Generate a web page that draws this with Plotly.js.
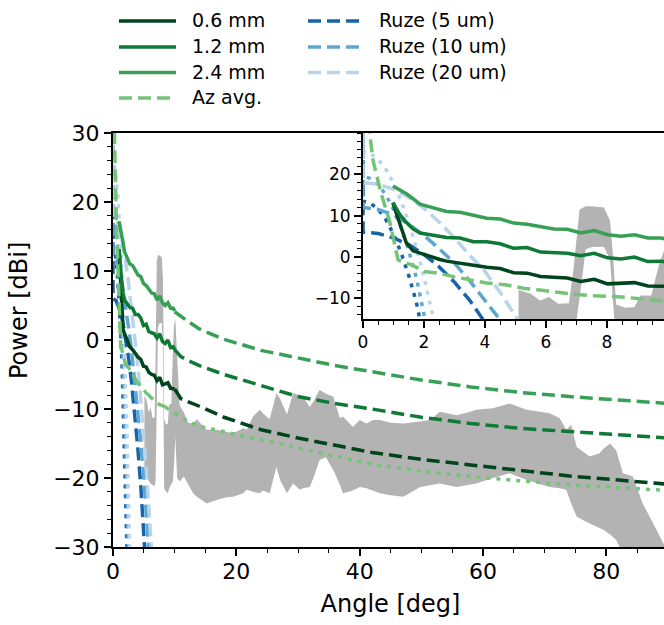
<!DOCTYPE html>
<html>
<head>
<meta charset="utf-8">
<script src="https://cdn.plot.ly/plotly-3.0.1.min.js"></script>
<style>
html,body{margin:0;padding:0;overflow:hidden;background:#fff;}
#chart{width:670px;height:625px;}
</style>
</head>
<body>
<div id="chart"></div>
<script>
// ---- measured beam profiles (0-10 deg) ----
const measAng = [0.98, 1.2, 1.42, 1.64, 1.87, 2.1, 2.3, 2.52, 2.74, 3.18, 3.62, 4.06, 4.5, 4.94, 5.38, 5.82, 6.26, 6.7, 7.14, 7.58, 8.02, 8.46, 8.9, 9.34, 9.78, 10.0];
const p06 = [13.1, 8.2, 3.4, 1.5, 0.9, 0.5, 0.0, -0.6, -1.0, -1.4, -2.0, -2.5, -2.8, -3.8, -3.9, -4.7, -5.0, -5.1, -5.9, -5.4, -6.5, -6.3, -6.2, -7.0, -7.0, -7.1];
const p12 = [13.2, 10.3, 8.4, 6.8, 5.8, 5.5, 5.3, 5.1, 4.7, 4.6, 3.7, 3.7, 3.2, 2.1, 2.3, 1.2, 1.1, 0.9, 0.3, 0.9, -0.2, -0.5, 0.0, -1.1, -1.0, -1.4];
const p24 = [17.2, 16.3, 15.3, 14.1, 12.8, 12.3, 11.9, 11.3, 11.0, 10.8, 10.0, 9.4, 9.2, 8.2, 7.9, 7.3, 6.8, 6.7, 5.8, 6.4, 5.4, 5.0, 5.4, 4.6, 4.6, 4.2];

// ---- azimuth average (0-10 deg) ----
const azAng = [0.15, 0.22, 0.33, 0.6, 0.87, 1.04, 1.15, 1.26, 1.59, 2.02, 2.46, 3.0, 3.5, 4.05, 4.66, 5.3, 5.8, 6.3, 6.9, 7.4, 8.0, 8.5, 9.1, 9.6, 10.0];
const azVal = [33, 29.8, 23.3, 15.2, 8.7, 3.0, -0.7, -1.0, -1.9, -3.5, -3.9, -4.8, -5.6, -6.3, -6.7, -7.6, -8.0, -8.5, -9.0, -9.3, -9.5, -9.7, -10.1, -10.5, -10.6];

// ---- extrapolated tails (10-90 deg) ----
const tailAng = [10, 11, 12, 14, 18, 24, 30, 36, 42, 50, 58, 66, 74, 82, 90];
const t06 = [-7.1, -8.5, -8.9, -9.6, -11.2, -13.0, -14.2, -15.3, -16.3, -17.3, -18.1, -19.0, -19.7, -20.3, -20.9];
const t12 = [-1.4, -2.4, -2.9, -3.7, -5.0, -6.6, -8.2, -9.2, -10.0, -11.2, -12.1, -12.8, -13.3, -13.8, -14.2];
const t24 = [4.1, 3.4, 2.8, 1.6, 0.1, -1.5, -2.6, -3.7, -4.6, -5.8, -6.8, -7.6, -8.2, -8.7, -9.2];
const tAz = [-10.6, -11.2, -11.7, -12.5, -13.3, -14.5, -15.6, -16.8, -18.0, -19.0, -19.8, -20.4, -21.0, -21.4, -21.8];

// ---- Ruze patterns ----
const ruzeAng = [0, 0, 0.5, 1, 1.5, 2, 2.5, 3, 3.5, 4, 4.5, 5, 5.5, 6, 6.5];
const ruze5 = [50, 6.0, 5.7, 4.6, 3.0, 0.6, -2.4, -6.1, -10.5, -15.4, -21.1, -27.5, -34.5, -42, -50];
const ruze10 = [50, 12.0, 11.5, 10.2, 7.9, 5.2, 2.0, -1.5, -5.8, -10.3, -14.8, -20.0, -26.0, -32.5, -40];
const ruze20 = [50, 18.0, 17.6, 16.4, 14.4, 11.8, 8.4, 4.6, 0.4, -3.5, -8.6, -14.1, -20.0, -27.0, -34.0];
const ruzeNarrowAng = [0, 0, 0.25, 0.5, 0.75, 1, 1.25, 1.5, 1.75, 2, 2.25, 2.5, 2.75];
const ruze5n = [50, 13.5, 13.0, 11.5, 9.0, 5.5, 1.0, -4.5, -11.0, -18.5, -27.0, -36.5, -47];
const ruze10n = [50, 19.5, 19.0, 17.5, 15.0, 11.5, 7.0, 1.5, -5.0, -12.5, -21.0, -30.5, -41];
const ruze20n = [50, 25.5, 25.0, 23.6, 21.2, 17.9, 13.6, 8.4, 2.2, -4.9, -13.0, -22.0, -32.0];

// ---- measured envelope (gray band) ----
const grayAng = [5.1, 5.5, 5.8, 6.1, 6.4, 6.75, 6.9, 7.1, 7.3, 7.5, 7.9, 8.1, 8.2, 8.3, 8.6, 8.9, 9.1, 9.45, 9.7, 9.9, 10.1, 10.4, 10.8, 11.5, 12.2, 13.0, 13.6, 14.1, 15.2, 16.8, 18.4, 19.5, 21.1, 21.7, 22.7, 23.8, 24.3, 25.4, 26.5, 27.1, 28.2, 29.2, 30.3, 30.8, 31.9, 32.5, 33.5, 34.5, 35.7, 36.8, 37.3, 38.9, 40.0, 41.1, 42.2, 43.3, 45.0, 47.1, 49.8, 51.4, 53.0, 55.7, 57.5, 58.9, 61.6, 64.3, 67.1, 69.7, 70.8, 72.4, 73.5, 74.3, 75.2, 77.3, 78.9, 79.5, 80.6, 81.6, 82.7, 84.3, 85.9, 87.6, 89.2, 90.0];
const grayHi = [-8.0, -8.9, -10.5, -9.7, -11.3, -11.2, -3.0, 11.5, 12.3, 12.3, 12.0, 8.8, 0.0, -11.5, -12.3, -12.1, -9.3, -9.3, -2.0, 2.2, 3.0, -2.0, -9.5, -10.5, -12.0, -12.1, -11.5, -12.0, -13.0, -13.0, -13.3, -13.5, -12.8, -13.0, -11.1, -10.1, -10.6, -11.5, -7.7, -8.5, -10.8, -7.7, -8.0, -8.2, -9.7, -8.9, -7.2, -7.8, -8.2, -11.3, -11.1, -12.6, -11.6, -12.1, -11.6, -11.6, -12.0, -12.1, -11.8, -11.6, -10.4, -10.9, -10.5, -10.1, -9.9, -9.2, -10.1, -10.4, -10.6, -11.3, -13.0, -12.3, -15.5, -16.9, -16.4, -15.8, -15.0, -16.0, -19.3, -19.8, -23.7, -26.6, -29.4, -30.5];
const grayLo = [-19.5, -20.0, -20.5, -20.8, -21.0, -21.2, -20.5, -10.0, 1.8, 2.4, 2.5, -0.7, -13.5, -21.5, -22.0, -22.2, -21.5, -21.0, -20.5, -18.0, -14.0, -20.0, -20.5, -19.8, -21.0, -22.2, -22.7, -23.0, -23.7, -23.2, -22.8, -22.7, -22.2, -21.7, -22.0, -22.2, -21.8, -22.2, -18.4, -20.3, -22.2, -20.8, -21.7, -21.5, -21.3, -20.0, -17.4, -17.0, -18.8, -21.0, -22.2, -21.8, -21.3, -21.5, -21.9, -22.2, -22.5, -22.7, -21.3, -21.0, -20.8, -21.3, -21.0, -20.8, -20.0, -19.3, -20.3, -21.0, -21.3, -21.5, -21.7, -23.7, -25.6, -26.6, -27.2, -27.5, -28.2, -29.0, -31.0, -32.0, -33.0, -34.0, -35.0, -35.0];

// ---- legend labels ----
const legendCol1 = ['0.6 mm', '1.2 mm', '2.4 mm', 'Az avg.'];
const legendCol2 = ['Ruze (5 um)', 'Ruze (10 um)', 'Ruze (20 um)'];

// ---- styles ----
const C06 = '#00441b', C12 = '#0f7a36', C24 = '#38a055', CAZ = '#74c476';
const CR5 = '#1764ab', CR10 = '#5fa6d1', CR20 = '#b7d4ea';
const GRAY = '#b3b3b3';
const LW = 3.5;
const DASH = '13px,6px';
const DOT = '4px,6px';

function line(x, y, color, dash, axes, name) {
  return {x: x, y: y, type: 'scatter', mode: 'lines', name: name || '',
    line: {color: color, width: LW, dash: dash},
    xaxis: axes[0], yaxis: axes[1], hoverinfo: 'skip', showlegend: false};
}

const traces = [];
const sets = [['x', 'y'], ['x2', 'y2']];
sets.forEach(function (ax, i) {
  const main = i === 0;
  traces.push({x: grayAng, y: grayLo, type: 'scatter', mode: 'lines', line: {width: 0, color: GRAY},
    xaxis: ax[0], yaxis: ax[1], showlegend: false, hoverinfo: 'skip'});
  traces.push({x: grayAng, y: grayHi, type: 'scatter', mode: 'lines', line: {width: 0, color: GRAY},
    fill: 'tonexty', fillcolor: GRAY, xaxis: ax[0], yaxis: ax[1], showlegend: false, hoverinfo: 'skip'});
  traces.push(line(ruzeNarrowAng, ruze5n, CR5, DOT, ax));
  traces.push(line(ruzeNarrowAng, ruze10n, CR10, DOT, ax));
  traces.push(line(ruzeNarrowAng, ruze20n, CR20, DOT, ax));
  traces.push(line(ruzeAng, ruze5, CR5, DASH, ax, legendCol2[0]));
  traces.push(line(ruzeAng, ruze10, CR10, DASH, ax, legendCol2[1]));
  traces.push(line(ruzeAng, ruze20, CR20, DASH, ax, legendCol2[2]));
  traces.push(line(measAng, p06, C06, 'solid', ax, legendCol1[0]));
  traces.push(line(measAng, p12, C12, 'solid', ax, legendCol1[1]));
  traces.push(line(measAng, p24, C24, 'solid', ax, legendCol1[2]));
  traces.push(line(azAng, azVal, CAZ, DASH, ax, legendCol1[3]));
  if (main) {
    traces.push(line(tailAng, t06, C06, DASH, ax));
    traces.push(line(tailAng, t12, C12, DASH, ax));
    traces.push(line(tailAng, t24, C24, DASH, ax));
    traces.push(line(tailAng, tAz, CAZ, DOT, ax));
  }
});

const FONT = 'DejaVu Sans, sans-serif';
function axis(extra) {
  return Object.assign({
    showgrid: false, zeroline: false, showline: true, linecolor: 'black', linewidth: 2,
    mirror: true, ticks: 'outside', ticklen: 7, tickwidth: 1.6, tickcolor: 'black',
    tickfont: {family: FONT, size: 22, color: 'black'}
  }, extra);
}

// legend drawn as paper-anchored line samples + text
const PW = 555, PH = 414, PL = 113, PB = 547;
const px = v => (v - PL) / PW;
const py = v => (PB - v) / PH;
const rowsY = [21, 47, 72.5, 98];
const col1Style = [[C06, 'solid'], [C12, 'solid'], [C24, 'solid'], [CAZ, DASH]];
const col2Style = [[CR5, DASH], [CR10, DASH], [CR20, DASH]];
const shapes = [], annotations = [];
function legendEntry(label, style, row, lx0, lx1, tx) {
  shapes.push({type: 'line', xref: 'paper', yref: 'paper', x0: px(lx0), x1: px(lx1),
    y0: py(rowsY[row]), y1: py(rowsY[row]), line: {color: style[0], width: LW, dash: style[1]}});
  annotations.push({xref: 'paper', yref: 'paper', x: px(tx), y: py(rowsY[row] - 1), xanchor: 'left', yanchor: 'middle',
    text: label, showarrow: false, font: {family: FONT, size: 19, color: 'black'}, borderpad: 0});
}
legendCol1.forEach((l, i) => legendEntry(l, col1Style[i], i, 119, 176, 191));
legendCol2.forEach((l, i) => legendEntry(l, col2Style[i], i, 308, 362, 378));
annotations.push({xref: 'paper', yref: 'paper', x: px(19), y: py(311), xanchor: 'center', yanchor: 'middle',
  text: 'Power [dBi]', textangle: -90, showarrow: false, font: {family: FONT, size: 24, color: 'black'}});

const layout = {
  width: 670, height: 625,
  margin: {l: 113, r: 2, t: 133, b: 78, pad: 0},
  paper_bgcolor: 'white', plot_bgcolor: 'white',
  font: {family: FONT, color: 'black'},
  showlegend: false,
  xaxis: axis({range: [0, 90], tickvals: [0, 20, 40, 60, 80], domain: [0, 1], ticklabelstandoff: -3,
    minor: {dtick: 5, tick0: 0, ticks: 'outside', ticklen: 4, tickwidth: 1.3, tickcolor: 'black'},
    title: {text: 'Angle [deg]', font: {family: FONT, size: 24, color: 'black'}, standoff: 12}, anchor: 'y'}),
  yaxis: axis({range: [-30, 30], tickvals: [-30, -20, -10, 0, 10, 20, 30], domain: [0, 1],
    minor: {dtick: 2, tick0: 0, ticks: 'outside', ticklen: 4, tickwidth: 1.3, tickcolor: 'black'},
    anchor: 'x'}),
  xaxis2: axis({range: [0, 10], tickvals: [0, 2, 4, 6, 8], domain: [0.4505, 1], anchor: 'y2',
    tickfont: {family: FONT, size: 17, color: 'black'},
    minor: {dtick: 0.5, tick0: 0, ticks: 'outside', ticklen: 4, tickwidth: 1.3, tickcolor: 'black'}}),
  yaxis2: axis({range: [-15, 30], tickvals: [-10, 0, 10, 20], domain: [0.5507, 1], anchor: 'x2',
    tickfont: {family: FONT, size: 17, color: 'black'},
    minor: {dtick: 2, tick0: 0, ticks: 'outside', ticklen: 4, tickwidth: 1.3, tickcolor: 'black'}}),
  shapes: shapes,
  annotations: annotations
};

Plotly.newPlot('chart', traces, layout, {displayModeBar: false, responsive: false});
</script>
</body>
</html>
